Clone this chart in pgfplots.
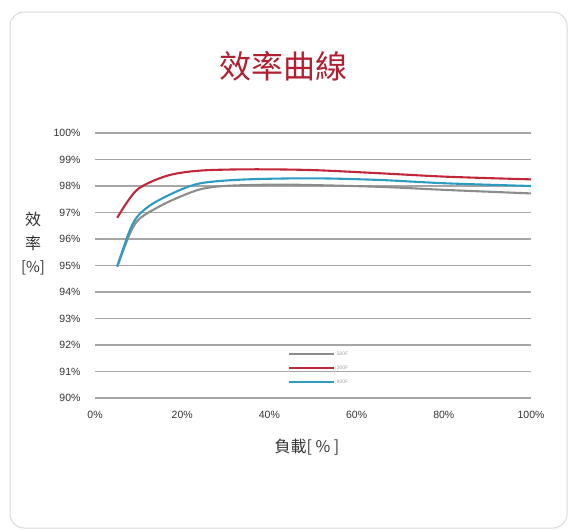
\documentclass[border=0pt]{standalone}
\usepackage{fontspec}
\setmainfont{Liberation Sans}
\newfontfamily\cjk{Noto Sans CJK TC}
\usepackage{pgfplots}
\pgfplotsset{compat=1.18}
\definecolor{cred}{HTML}{C0283A}
\definecolor{cblue}{HTML}{2E9BC0}
\definecolor{cgray}{HTML}{8C8C8C}
\definecolor{ctitle}{HTML}{B02030}
\definecolor{cgrid}{HTML}{A6A6A6}
\definecolor{ctick}{HTML}{333333}
\begin{document}
\begin{tikzpicture}
\path[use as bounding box] (0pt,0pt) rectangle (573pt,-530pt);
\draw[black!15, line width=1pt, rounded corners=14pt] (10pt,-12pt) rectangle (567pt,-528pt);
\node[font=\cjk\fontsize{32}{34}\selectfont, text=ctitle] at (283pt,-66pt) {效率曲線};
\node[font=\cjk\fontsize{16}{18}\selectfont, text=ctick, inner sep=0] at (33pt,-219pt) {效};
\node[font=\cjk\fontsize{16}{18}\selectfont, text=ctick, inner sep=0] at (33pt,-243pt) {率};
\node[font=\cjk\fontsize{15}{17}\selectfont, text=ctick, inner sep=0] at (33pt,-268pt) {[\%]};
\node[font=\cjk\fontsize{16}{18}\selectfont, text=ctick] at (307pt,-447pt) {負載[ \% ]};
\begin{axis}[
  at={(95pt,-398pt)}, anchor=south west,
  scale only axis, width=436pt, height=265pt,
  xmin=0, xmax=100, ymin=90, ymax=100,
  xtick={0,20,40,60,80,100},
  xticklabels={0\%,20\%,40\%,60\%,80\%,100\%},
  ytick={90,91,...,100},
  yticklabels={90\%,91\%,92\%,93\%,94\%,95\%,96\%,97\%,98\%,99\%,100\%},
  axis line style={draw=none},
  major tick length=0pt,
  ymajorgrids, grid style={cgrid, line width=1.2pt},
  tick label style={font=\fontsize{10.5}{12}\selectfont, text=ctick},
  /pgf/number format/assume math mode=true,
  yticklabel style={xshift=-11pt},
  xticklabel style={yshift=-10pt},
  legend style={at={(0.435,0.19)}, anchor=north west, draw=none, fill=none,
    font=\fontsize{5}{6}\selectfont, text=cgray!80, row sep=5pt},
  legend image code/.code={\draw[#1, line width=2pt] (0pt,0pt) -- (45pt,0pt);},
]
\addplot[cgray, line width=2.1pt, smooth, tension=0.5] coordinates {
(5.1,94.95) (8,96.2) (10.3,96.78) (15.6,97.3) (20,97.63) (24,97.87) (28,97.98) (34,98.03) (45,98.05) (65,97.97) (80.7,97.85) (100,97.72)};
\addlegendentry{500F}
\addplot[cred, line width=2.1pt, smooth, tension=0.5] coordinates {
(5.1,96.8) (9.6,97.85) (16.4,98.38) (24,98.58) (36,98.63) (50,98.6) (65.4,98.48) (80.7,98.35) (100,98.25)};
\addlegendentry{300F}
\addplot[cblue, line width=2.1pt, smooth, tension=0.5] coordinates {
(5.1,94.97) (8,96.34) (10,96.9) (13.4,97.35) (19.5,97.85) (24.8,98.12) (34.8,98.25) (50,98.29) (65,98.23) (80.7,98.1) (100,98.0)};
\addlegendentry{800F}
\end{axis}
\end{tikzpicture}
\end{document}
